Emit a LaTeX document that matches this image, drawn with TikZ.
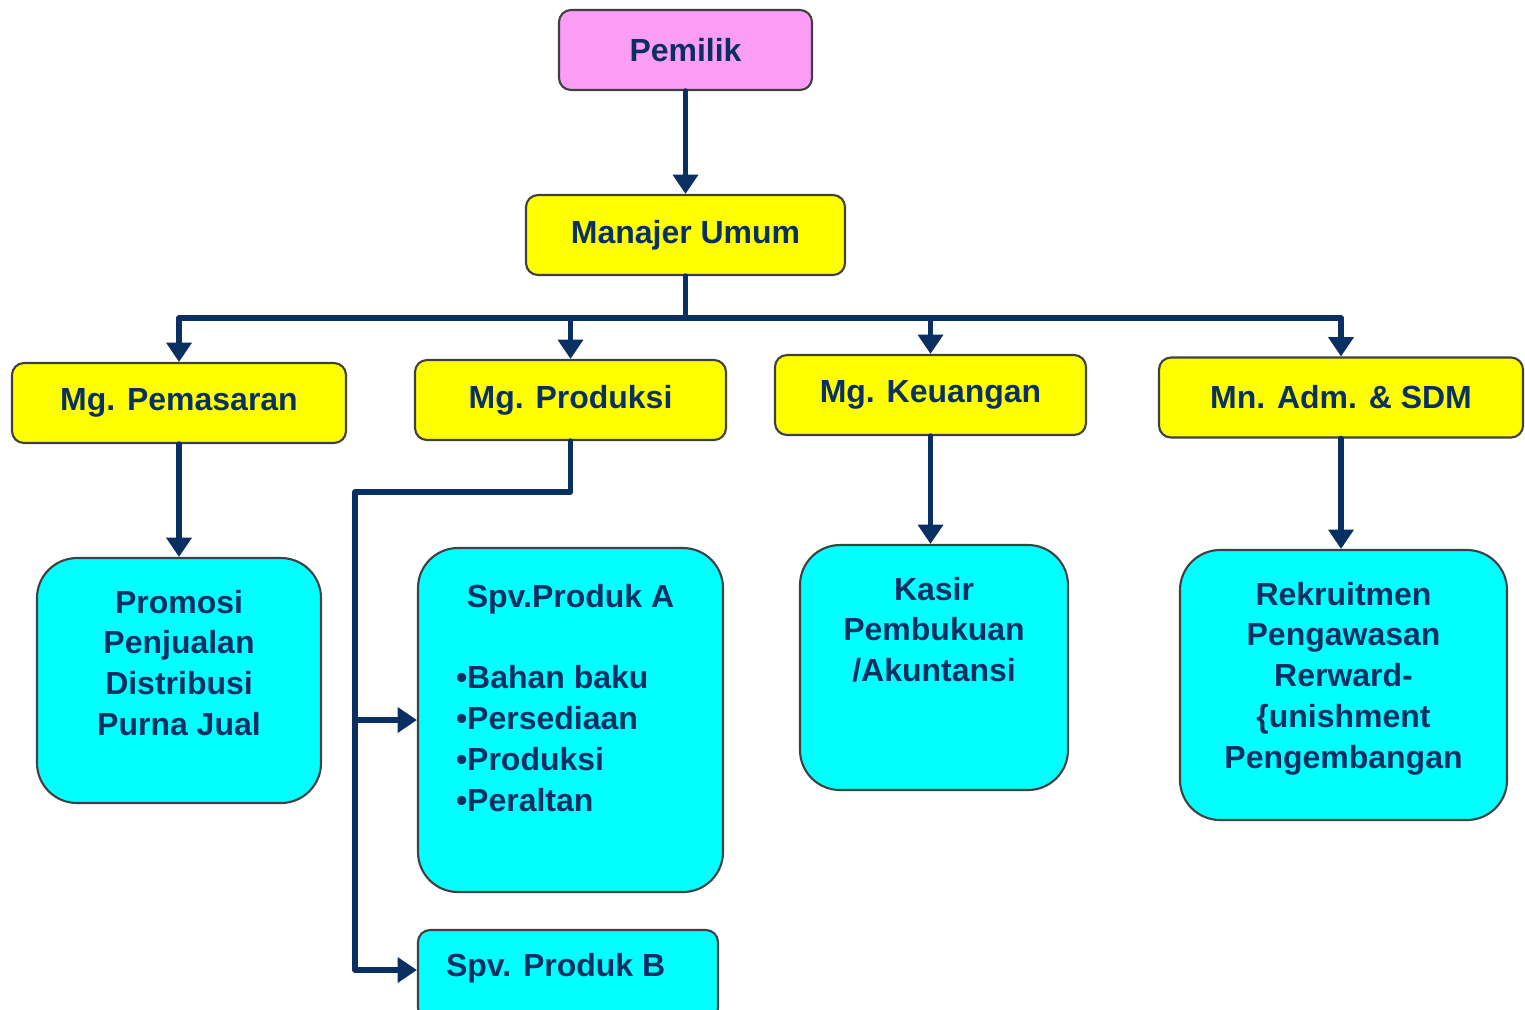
\documentclass[tikz,border=0pt]{standalone}
\usepackage{fontspec}
\setmainfont{Liberation Sans}
\usetikzlibrary{arrows.meta}
\definecolor{navy}{HTML}{0A2F63}
\definecolor{pinkfill}{HTML}{FB9CF5}
\definecolor{boxyellow}{HTML}{FFFF00}
\definecolor{boxcyan}{HTML}{00FFFF}
\newcommand{\subtext}[3]{\parbox[c][#2][t]{#1}{\vspace*{0.32cm}\centering #3}}
\begin{document}
\begin{tikzpicture}[line cap=round,line join=round,
  boxbase/.style={draw=black!75,line width=0.6pt,text=navy,inner sep=0pt,
    font=\fontsize{9.1}{11.6}\selectfont\bfseries},
  topbox/.style={boxbase,rounded corners=0.12cm,minimum height=0.8cm},
  subbox/.style={boxbase,fill=boxcyan,rounded corners=0.4cm},
  wire/.style={draw=navy,line width=1.6pt},
  link/.style={wire,-{Triangle[length=5.5pt,width=7pt]}}]
  \useasboundingbox (0,0) rectangle (15.25,-10.09);
  % top of the chart
  \node[topbox,fill=pinkfill,minimum width=2.53cm] (pemilik) at (6.855,-0.50) {Pemilik};
  \node[topbox,fill=boxyellow,minimum width=3.19cm] (umum) at (6.855,-2.35) {Manajer Umum};
  % managers
  \node[topbox,fill=boxyellow,minimum width=3.34cm] (pemasaran) at (1.79,-4.03) {Mg. Pemasaran};
  \node[topbox,fill=boxyellow,minimum width=3.11cm] (produksi) at (5.705,-4.00) {Mg. Produksi};
  \node[topbox,fill=boxyellow,minimum width=3.11cm] (keuangan) at (9.305,-3.95) {Mg. Keuangan};
  \node[topbox,fill=boxyellow,minimum width=3.64cm] (sdm) at (13.41,-3.975) {Mn. Adm. \& SDM};
  % tasks
  \node[subbox] (promosi) at (1.79,-6.805)
    {\subtext{2.84cm}{2.45cm}{Promosi\\Penjualan\\Distribusi\\Purna Jual}};
  \node[subbox] (spva) at (5.705,-7.20)
    {\parbox[c][3.44cm][t]{3.05cm}{\vspace*{0.36cm}\centering Spv.Produk A\par
      \vspace{\baselineskip}\raggedright\leftskip=0.38cm
      •Bahan baku\\•Persediaan\\•Produksi\\•Peraltan}};
  \node[subbox,rounded corners=0.12cm] (spvb) at (5.68,-9.75)
    {\parbox[c][0.9cm][t]{3.0cm}{\vspace*{0.23cm}\hspace*{0.28cm}Spv. Produk B}};
  \node[subbox] (kasir) at (9.34,-6.675)
    {\subtext{2.68cm}{2.45cm}{Kasir\\Pembukuan\\/Akuntansi}};
  \node[subbox] (rekrut) at (13.435,-6.85)
    {\subtext{3.27cm}{2.70cm}{Rekruitmen\\Pengawasan\\Rerward-\\\{unishment\\Pengembangan}};
  % connectors
  \coordinate (bus) at (6.855,-3.18);
  \coordinate (prodbend) at (3.55,-4.92);
  \coordinate (spvbus) at (prodbend |- spva.west);
  \coordinate (spvbin) at ([yshift=0.05cm]spvb.west);
  \draw[link] (pemilik) -- (umum);
  \draw[wire] (umum) -- (bus);
  \draw[link] (bus) -| (pemasaran.north);
  \draw[link] (bus) -| (produksi.north);
  \draw[link] (bus) -| (keuangan.north);
  \draw[link] (bus) -| (sdm.north);
  \draw[link] (pemasaran) -- (promosi);
  \draw[link] (keuangan) -- (keuangan |- kasir.north);
  \draw[link] (sdm) -- (sdm |- rekrut.north);
  \draw[link] (produksi) |- (prodbend) |- (spvbin);
  \draw[link] (spvbus) -- (spva.west);
\end{tikzpicture}
\end{document}
